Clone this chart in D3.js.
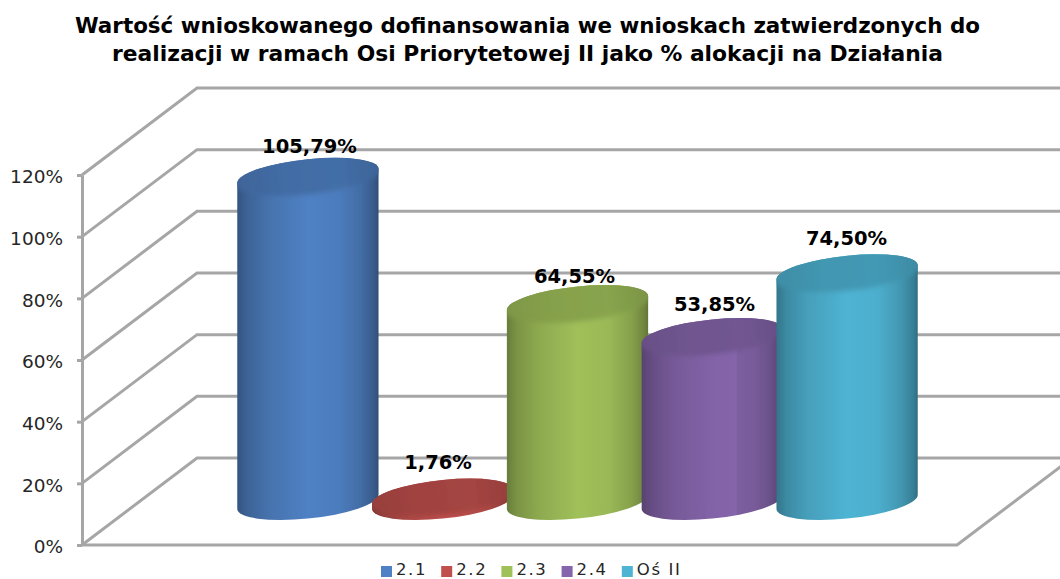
<!DOCTYPE html>
<html>
  <head>
    <meta charset="utf-8">
    <title>Wartość wnioskowanego dofinansowania</title>
    <script src="https://d3js.org/d3.v7.min.js"></script>
    <style>
    body { margin: 0; background: #fff; }
    svg { display: block; }
    text { font-family: "DejaVu Sans", Verdana, sans-serif; }
    .axis text { font-size: 18.5px; fill: #262626; }
    .axis line, .axis path { stroke: #a6a6a6; stroke-width: 3; }
    .wall { stroke: #a6a6a6; stroke-width: 3; fill: none; }
    .label { font-size: 19.5px; font-weight: bold; fill: #000; text-anchor: middle; }
    .title { font-size: 20.5px; font-weight: bold; fill: #000; text-anchor: middle; }
    .legend text { font-size: 16.5px; fill: #262626; letter-spacing: 1.6px; }
    </style>
  </head>
  <body>
<svg width="1060" height="579"></svg>

<script>
var categories = ['2.1', '2.2', '2.3', '2.4', 'Oś II'];
var values = [105.79, 1.76, 64.55, 53.85, 74.5];
var colors = ['#4f81c4', '#c0504d', '#a0c05a', '#8565ab', '#4fb4d4'];
var yTicks = [0, 20, 40, 60, 80, 100, 120];
var titleLines = [
  'Wartość wnioskowanego dofinansowania we wnioskach zatwierdzonych do',
  'realizacji w ramach Osi Priorytetowej II jako % alokacji na Działania'
];
var titleWidths = [905, 831];
// small hand nudges so the labels sit where Excel left them
var labelNudge = [[1.6, -23], [-4.7, -27.6], [-3, -20], [2.2, -25], [-0.6, -27]];

var svg = d3.select('svg');
var defs = svg.append('defs');

defs.append('filter').attr('id', 'soft')
  .append('feGaussianBlur').attr('stdDeviation', 0.6);
defs.append('filter').attr('id', 'softer')
  .attr('x', '-10%').attr('width', '120%').attr('y', '-40%').attr('height', '180%')
  .append('feGaussianBlur').attr('stdDeviation', 2.5);

// the box: front plane and how far the back plane is pushed
var depthX = 115, depthY = -87;
var floorX = [82, 957];
var y = d3.scaleLinear().domain([0, 120]).range([545, 175]);
var x = d3.scaleBand().domain(categories).range([240.5, 914.5]);

// cylinders stand partway into the box
var baseDrop = 43;
var a = 71, b = 16.5, rot = -6;

var walls = svg.append('g').attr('filter', 'url(#soft)');

yTicks.forEach(function(t) {
  var line = d3.line();
  var pts = [[floorX[0], y(t)], [floorX[0] + depthX, y(t) + depthY], [floorX[1] + depthX, y(t) + depthY]];
  walls.append('path').attr('class', 'wall').attr('d', line(pts));
});
walls.append('path').attr('class', 'wall').attr('d', d3.line()([
  [floorX[0], y(0)], [floorX[1], y(0)], [floorX[1] + depthX, y(0) + depthY]
]));

var yAxis = d3.axisLeft(y)
  .tickValues(yTicks)
  .tickFormat(function(d) { return d + '%'; })
  .tickSize(5)
  .tickPadding(14)
  .tickSizeOuter(0);

var axisG = svg.append('g')
  .attr('class', 'axis')
  .attr('transform', 'translate(' + floorX[0] + ',0)')
  .call(yAxis);
axisG.selectAll('text').attr('dy', '0.42em');

// point on the tilted ellipse where the side walls touch it
var th = rot * Math.PI / 180;
var t0 = Math.atan2(-b * Math.sin(th), a * Math.cos(th));
var edgeX = a * Math.cos(t0) * Math.cos(th) - b * Math.sin(t0) * Math.sin(th);
var edgeY = a * Math.cos(t0) * Math.sin(th) + b * Math.sin(t0) * Math.cos(th);

function bodyPath(cx, top, bottom) {
  return 'M' + (cx - edgeX) + ',' + (top - edgeY) +
    'L' + (cx - edgeX) + ',' + (bottom - edgeY) +
    'A' + a + ',' + b + ' ' + rot + ' 0 0 ' + (cx + edgeX) + ',' + (bottom + edgeY) +
    'L' + (cx + edgeX) + ',' + (top + edgeY) +
    'A' + a + ',' + b + ' ' + rot + ' 0 0 ' + (cx - edgeX) + ',' + (top - edgeY) + 'Z';
}

colors.forEach(function(c, i) {
  var g = defs.append('linearGradient').attr('id', 'body' + i);
  var stops = [[0, 1.2], [0.07, 0.75], [0.22, 0.35], [0.5, 0], [0.72, 0.1], [0.88, 0.5], [0.97, 1], [1, 1.4]];
  // the purple one has a visible seam in the source
  if (i === 3) stops = [[0, 1.2], [0.07, 0.75], [0.22, 0.35], [0.5, 0.05], [0.67, 0], [0.675, 0.2], [0.8, 0.3], [0.9, 0.6], [0.97, 1], [1, 1.4]];
  stops.forEach(function(s) {
    g.append('stop').attr('offset', s[0]).attr('stop-color', d3.color(c).darker(s[1]));
  });
  var k = defs.append('linearGradient').attr('id', 'cap' + i);
  [[0, 0.7], [0.35, 0.5], [0.7, 0.45], [1, 0.75]].forEach(function(s) {
    k.append('stop').attr('offset', s[0]).attr('stop-color', d3.color(c).darker(s[1]));
  });
});

var bars = svg.selectAll('.bar')
  .data(values)
  .enter().append('g')
  .attr('class', 'bar')
  .attr('filter', 'url(#soft)');

bars.each(function(d, i) {
  var g = d3.select(this);
  var cx = x(categories[i]) + x.bandwidth() / 2;
  var top = y(d) - baseDrop;
  var bottom = y(0) - baseDrop;
  var shape = bodyPath(cx, top, bottom);
  defs.append('clipPath').attr('id', 'clip' + i).append('path').attr('d', shape);
  g.append('path')
    .attr('d', shape)
    .attr('fill', 'url(#body' + i + ')');
  // cap is oversized and clipped so only its lower edge fades into the body
  g.append('g')
    .attr('clip-path', 'url(#clip' + i + ')')
    .append('ellipse')
    .attr('rx', a + 5).attr('ry', b + 4)
    .attr('transform', 'translate(' + cx + ',' + (top - 2) + ') rotate(' + rot + ')')
    .attr('fill', 'url(#cap' + i + ')')
    .attr('filter', 'url(#softer)');
});

svg.selectAll('.label')
  .data(values)
  .enter().append('text')
  .attr('class', 'label')
  .attr('x', function(d, i) { return x(categories[i]) + x.bandwidth() / 2 + labelNudge[i][0]; })
  .attr('y', function(d, i) { return y(d) - baseDrop + labelNudge[i][1]; })
  .text(function(d) { return d.toFixed(2).replace('.', ',') + '%'; });

svg.selectAll('.title')
  .data(titleLines)
  .enter().append('text')
  .attr('class', 'title')
  .attr('x', 527.5)
  .attr('y', function(d, i) { return 33 + i * 27.5; })
  .attr('textLength', function(d, i) { return titleWidths[i]; })
  .attr('lengthAdjust', 'spacingAndGlyphs')
  .text(function(d) { return d; });

var legend = svg.append('g').attr('class', 'legend')
  .selectAll('g')
  .data(categories)
  .enter().append('g')
  .attr('transform', function(d, i) { return 'translate(' + (381 + i * 60.2) + ',566)'; });

legend.append('rect')
  .attr('width', 11).attr('height', 11)
  .attr('fill', function(d, i) { return colors[i]; });

legend.append('text')
  .attr('x', 15).attr('y', 9)
  .text(function(d) { return d; });
</script>
  </body>
</html>
